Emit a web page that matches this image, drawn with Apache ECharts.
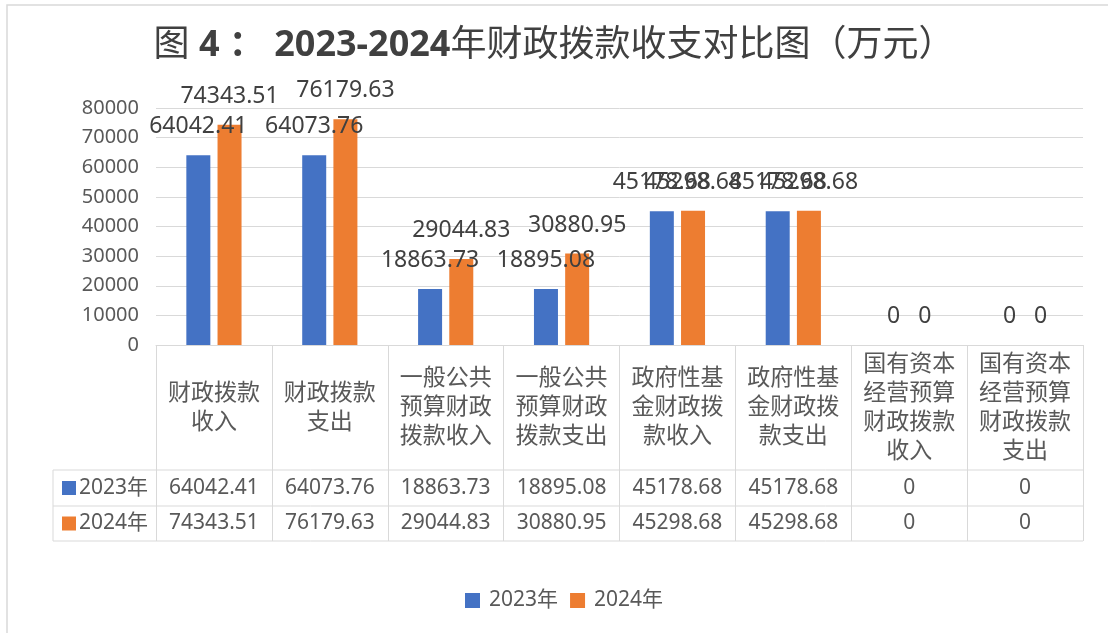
<!DOCTYPE html>
<html>
<head>
<meta charset="utf-8">
<script src="https://cdn.jsdelivr.net/npm/echarts@6/dist/echarts.min.js"></script>
<style>
html,body{margin:0;padding:0;background:#fff}
#main{width:1108px;height:633px}
</style>
</head>
<body>
<div id="main"></div>
<script>
// === 數據 ===
const categories=['财政拨款\n收入','财政拨款\n支出','一般公共\n预算财政\n拨款收入','一般公共\n预算财政\n拨款支出','政府性基\n金财政拨\n款收入','政府性基\n金财政拨\n款支出','国有资本\n经营预算\n财政拨款\n收入','国有资本\n经营预算\n财政拨款\n支出'];
const seriesNames=['2023年','2024年'];
const values2023=[64042.41,64073.76,18863.73,18895.08,45178.68,45178.68,0,0];
const values2024=[74343.51,76179.63,29044.83,30880.95,45298.68,45298.68,0,0];
const yTicks={min:0,max:80000,interval:10000};

// === 樣式 ===
const C_BLUE='#4472C4',C_ORANGE='#ED7D31',C_TXT='#595959',C_LBL='#404040',C_LINE='#D9D9D9';
const FONT='"Noto Sans","Noto Sans CJK SC",sans-serif';
const AXIS_Y=345,ROW1=470,ROW2=506,ROW3=541,TBL_L=53,TBL_R=1083;

function fmt(v){return String(v)}

function rowAxis(arr,margin){
  return {
    type:'category',gridIndex:0,position:'bottom',
    data:arr.map(fmt),
    axisLine:{show:false},axisTick:{show:false},splitLine:{show:false},
    axisLabel:{interval:0,margin:margin,verticalAlign:'middle',align:'center',
      fontSize:21,color:C_TXT,fontFamily:FONT}
  };
}

const chart=echarts.init(document.getElementById('main'),null,{renderer:'canvas'});
chart.setOption({
  animation:false,
  backgroundColor:'#fff',
  textStyle:{fontFamily:FONT},
  title:{
    left:'center',top:23,
    text:'{r|图 }{b|4 ： 2023-2024}{r|年财政拨款收支对比图（万元）}',
    textStyle:{
      rich:{
        r:{fontSize:36,fontWeight:'normal',color:C_LBL,fontFamily:FONT},
        b:{fontSize:36,fontWeight:'bold',color:C_LBL,fontFamily:FONT}
      }
    }
  },
  legend:{
    data:seriesNames,left:460,top:585,
    icon:'rect',itemWidth:15,itemHeight:15,itemGap:12,
    textStyle:{fontSize:21,color:C_TXT,fontFamily:FONT,padding:[0,0,0,4]}
  },
  grid:{left:156,right:1108-TBL_R,top:108,bottom:633-AXIS_Y},
  xAxis:[
    {
      type:'category',data:categories,position:'bottom',
      axisLine:{show:true,lineStyle:{color:C_LINE,width:1}},
      axisTick:{show:true,alignWithLabel:false,length:ROW3-AXIS_Y,lineStyle:{color:C_LINE,width:1}},
      axisLabel:{interval:0,margin:(ROW1-AXIS_Y)/2,verticalAlign:'middle',align:'center',
        fontSize:23,lineHeight:29,color:C_TXT,fontFamily:FONT}
    },
    rowAxis(values2023,(ROW1+ROW2)/2-AXIS_Y),
    rowAxis(values2024,(ROW2+ROW3)/2-AXIS_Y)
  ],
  yAxis:{
    type:'value',min:yTicks.min,max:yTicks.max,interval:yTicks.interval,
    axisLine:{show:false},axisTick:{show:false},
    splitLine:{lineStyle:{color:C_LINE,width:1}},
    axisLabel:{fontSize:20,color:C_TXT,margin:17,fontFamily:FONT,formatter:function(v){return String(v)}}
  },
  series:[
    {name:seriesNames[0],type:'bar',data:values2023,barWidth:24,barGap:'30%',
      itemStyle:{color:C_BLUE},
      label:{show:true,position:'top',distance:17,fontSize:23,color:C_LBL,fontFamily:FONT}},
    {name:seriesNames[1],type:'bar',data:values2024,barWidth:24,barGap:'30%',
      itemStyle:{color:C_ORANGE},
      label:{show:true,position:'top',distance:17,fontSize:23,color:C_LBL,fontFamily:FONT}}
  ],
  graphic:[
    // 外框
    {type:'rect',silent:true,shape:{x:7,y:5,width:1300,height:800},style:{fill:null,stroke:C_LINE,lineWidth:1.5}},
    // 數據表橫線與左邊框
    {type:'line',silent:true,shape:{x1:TBL_L,y1:ROW1,x2:TBL_R,y2:ROW1},style:{stroke:C_LINE,lineWidth:1}},
    {type:'line',silent:true,shape:{x1:TBL_L,y1:ROW2,x2:TBL_R,y2:ROW2},style:{stroke:C_LINE,lineWidth:1}},
    {type:'line',silent:true,shape:{x1:TBL_L,y1:ROW3,x2:TBL_R,y2:ROW3},style:{stroke:C_LINE,lineWidth:1}},
    {type:'line',silent:true,shape:{x1:TBL_L,y1:ROW1,x2:TBL_L,y2:ROW3},style:{stroke:C_LINE,lineWidth:1}},
    // 行標題
    {type:'rect',silent:true,shape:{x:62,y:(ROW1+ROW2)/2-7,width:14,height:14},style:{fill:C_BLUE}},
    {type:'text',silent:true,x:79,y:(ROW1+ROW2)/2,style:{text:seriesNames[0],fontSize:21,fill:C_TXT,fontFamily:FONT,verticalAlign:'middle'}},
    {type:'rect',silent:true,shape:{x:62,y:(ROW2+ROW3)/2-7,width:14,height:14},style:{fill:C_ORANGE}},
    {type:'text',silent:true,x:79,y:(ROW2+ROW3)/2,style:{text:seriesNames[1],fontSize:21,fill:C_TXT,fontFamily:FONT,verticalAlign:'middle'}}
  ]
});
</script>
</body>
</html>
